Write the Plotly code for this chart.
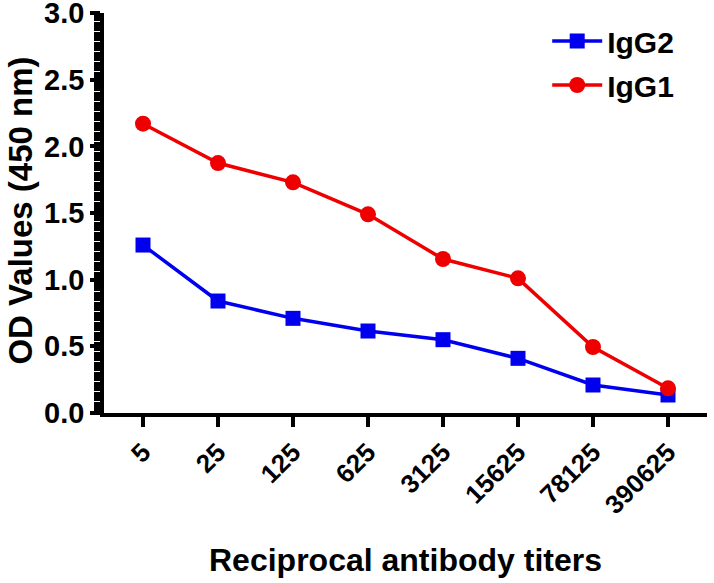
import plotly.graph_objects as go

titers = ["5", "25", "125", "625", "3125", "15625", "78125", "390625"]
igg2 = [1.26, 0.84, 0.71, 0.615, 0.55, 0.41, 0.21, 0.135]
igg1 = [2.17, 1.875, 1.73, 1.49, 1.155, 1.01, 0.495, 0.185]

FONT = "Liberation Sans, Arial, sans-serif"

fig = go.Figure()
fig.add_trace(go.Scatter(
    x=list(range(len(titers))), y=igg2, name="IgG2", mode="lines+markers",
    legendgroup="a",
    line=dict(color="#0000ee", width=3.5),
    marker=dict(symbol="square", size=15, color="#0000ee"),
))
fig.add_trace(go.Scatter(
    x=list(range(len(titers))), y=igg1, name="IgG1", mode="lines+markers",
    legendgroup="b",
    line=dict(color="#ee0000", width=3.5),
    marker=dict(symbol="circle", size=16, color="#ee0000"),
))

fig.update_layout(
    width=714, height=583,
    margin=dict(l=104, r=7, t=13, b=170, autoexpand=False),
    paper_bgcolor="white", plot_bgcolor="white",
    font=dict(family=FONT, color="black", size=22, weight="bold"),
    showlegend=True,
    legend=dict(x=0.735, y=0.995, xanchor="left", yanchor="top",
                font=dict(size=30, weight="bold", family=FONT),
                bgcolor="rgba(0,0,0,0)", itemsizing="trace", itemwidth=50,
                tracegroupgap=2),
    xaxis=dict(
        range=[-0.52, 7.52], tickmode="array", automargin=False,
        tickvals=list(range(len(titers))), ticktext=titers,
        tickangle=-45, showgrid=False, zeroline=False,
        showline=True, linecolor="black", linewidth=3.5,
        ticks="outside", ticklen=10, tickwidth=3.5, tickcolor="black",
        tickfont=dict(size=26, weight="bold", family=FONT),
        ticklabeloverflow="allow",
    ),
    yaxis=dict(
        range=[0, 3.0005], tickmode="linear", tick0=0, dtick=0.5, automargin=False,
        tickformat=".1f", showgrid=False, zeroline=False,
        showline=True, linecolor="black", linewidth=3.5,
        ticks="outside", ticklen=10, tickwidth=3.5, tickcolor="black",
        tickfont=dict(size=29, weight="bold", family=FONT),
        ticklabeloverflow="allow",
        minor=dict(ticks="outside", dtick=0.025, ticklen=6, tickwidth=2.5, tickcolor="black"),
    ),
    annotations=[
        dict(text="Reciprocal antibody titers", xref="paper", yref="paper",
             x=0.5, y=-0.368, xanchor="center", yanchor="middle", showarrow=False,
             font=dict(size=32, weight="bold", family=FONT)),
        dict(text="OD Values (450 nm)", xref="paper", yref="paper",
             x=-0.14, y=0.505, xanchor="center", yanchor="middle", showarrow=False,
             textangle=-90, font=dict(size=33, weight="bold", family=FONT)),
    ],
)

fig.write_html("out.html", config={"displayModeBar": False},
               post_script="document.body.style.margin='0';")
